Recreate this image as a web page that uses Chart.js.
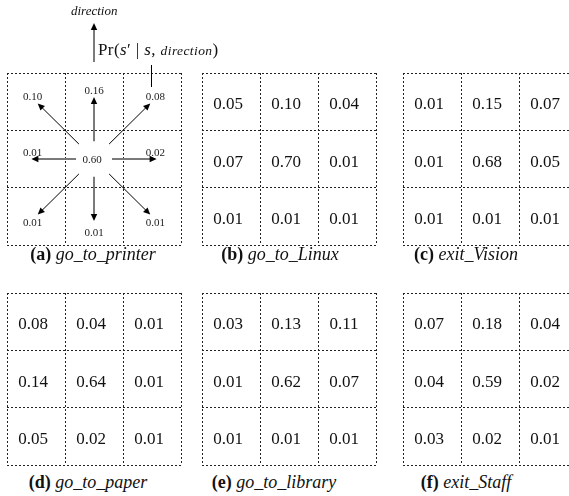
<!DOCTYPE html>
<html>
<head>
<meta charset="utf-8">
<script src="https://cdn.jsdelivr.net/npm/chart.js@4/dist/chart.umd.min.js"></script>
<style>
html, body { margin: 0; padding: 0; background: #fff; width: 569px; height: 496px; overflow: hidden; }
.panel { position: absolute; }
.cap { position: absolute; width: 240px; margin-left: -120px; text-align: center; white-space: nowrap;
       font-family: "Liberation Serif", "Times New Roman", serif; font-size: 18px; line-height: 20px; color: #111; }
.cap i { font-style: italic; }
.hdr { position: absolute; white-space: nowrap; font-family: "Liberation Serif", "Times New Roman", serif; color: #111; }
</style>
</head>
<body>
<div class="panel" style="left:5px; top:0px; width:178px; height:247px;"><canvas id="pa"></canvas></div>
<div class="panel" style="left:200px; top:71px; width:178px; height:176px;"><canvas id="pb"></canvas></div>
<div class="panel" style="left:401px; top:71px; width:178px; height:176px;"><canvas id="pc"></canvas></div>
<div class="panel" style="left:5px; top:291px; width:178px; height:176px;"><canvas id="pd"></canvas></div>
<div class="panel" style="left:200px; top:291px; width:178px; height:176px;"><canvas id="pe"></canvas></div>
<div class="panel" style="left:401px; top:291px; width:178px; height:176px;"><canvas id="pf"></canvas></div>

<div class="hdr" style="left:71px; top:3px; font-size:13px; font-style:italic;">direction</div>
<div class="hdr" style="left:98px; top:40px; font-size:17px; letter-spacing:0.4px;">Pr(<i>s</i>′ | <i>s</i>, <i style="font-size:13.5px;">direction</i>)</div>

<div class="cap" style="left:93px; top:244px;"><b>(a)</b> <i>go_to_printer</i></div>
<div class="cap" style="left:280px; top:244px;"><b>(b)</b> <i>go_to_Linux</i></div>
<div class="cap" style="left:466px; top:244px;"><b>(c)</b> <i>exit_Vision</i></div>
<div class="cap" style="left:88px; top:472px;"><b>(d)</b> <i>go_to_paper</i></div>
<div class="cap" style="left:274px; top:472px;"><b>(e)</b> <i>go_to_library</i></div>
<div class="cap" style="left:466px; top:472px;"><b>(f)</b> <i>exit_Staff</i></div>

<script>
// transition probabilities, row-major (top row first), 3x3 per action
const goToPrinter = [0.10, 0.16, 0.08, 0.01, 0.60, 0.02, 0.01, 0.01, 0.01];
const goToLinux   = [0.05, 0.10, 0.04, 0.07, 0.70, 0.01, 0.01, 0.01, 0.01];
const exitVision  = [0.01, 0.15, 0.07, 0.01, 0.68, 0.05, 0.01, 0.01, 0.01];
const goToPaper   = [0.08, 0.04, 0.01, 0.14, 0.64, 0.01, 0.05, 0.02, 0.01];
const goToLibrary = [0.03, 0.13, 0.11, 0.01, 0.62, 0.07, 0.01, 0.01, 0.01];
const exitStaff   = [0.07, 0.18, 0.04, 0.04, 0.59, 0.02, 0.03, 0.02, 0.01];

const serif = '"Liberation Serif", "Times New Roman", serif';

function cellPoints(values) {
    return values.map((v, i) => ({ x: (i % 3) + 0.5, y: Math.floor(i / 3) + 0.5, v: v }));
}

// big numbers written in the middle of each cell
const cellLabels = {
    id: 'cellLabels',
    afterDatasetsDraw(chart) {
        const ctx = chart.ctx;
        const meta = chart.getDatasetMeta(0);
        const data = chart.data.datasets[0].data;
        ctx.save();
        ctx.fillStyle = '#111';
        ctx.font = '17px ' + serif;
        ctx.textAlign = 'center';
        ctx.textBaseline = 'alphabetic';
        meta.data.forEach((pt, i) => {
            ctx.fillText(data[i].v.toFixed(2), pt.x - 3, pt.y + 7.5);
        });
        ctx.restore();
    }
};

function arrow(ctx, x0, y0, x1, y1, color, width) {
    const ang = Math.atan2(y1 - y0, x1 - x0);
    const len = 7, half = 3.2;
    ctx.strokeStyle = color;
    ctx.lineWidth = width;
    ctx.beginPath();
    ctx.moveTo(x0, y0);
    ctx.lineTo(x1 - Math.cos(ang) * len * 0.8, y1 - Math.sin(ang) * len * 0.8);
    ctx.stroke();
    ctx.fillStyle = '#000';
    ctx.beginPath();
    ctx.moveTo(x1, y1);
    ctx.lineTo(x1 - Math.cos(ang) * len - Math.sin(ang) * half, y1 - Math.sin(ang) * len + Math.cos(ang) * half);
    ctx.lineTo(x1 - Math.cos(ang) * len + Math.sin(ang) * half, y1 - Math.sin(ang) * len - Math.cos(ang) * half);
    ctx.closePath();
    ctx.fill();
}

// panel (a): arrows from the centre cell, small labels at the arrow tips
const compass = {
    id: 'compass',
    afterDatasetsDraw(chart) {
        const ctx = chart.ctx;
        const xs = chart.scales.x, ys = chart.scales.y;
        const area = chart.chartArea;
        const data = chart.data.datasets[0].data;
        const cx = 1.5, cy = 1.5;
        ctx.save();
        data.forEach((p, i) => {
            const dx = Math.round(p.x - cx), dy = Math.round(p.y - cy);
            let lx = cx, ly = cy, shift = -2;
            if (dx !== 0 || dy !== 0) {
                const diag = dx !== 0 && dy !== 0;
                const r0 = diag ? 0.26 : 0.31, r1 = diag ? 0.97 : 1.08;
                arrow(ctx,
                    xs.getPixelForValue(cx + dx * r0), ys.getPixelForValue(cy + dy * r0),
                    xs.getPixelForValue(cx + dx * r1), ys.getPixelForValue(cy + dy * r1),
                    diag ? '#000' : '#7a7a7a', diag ? 1 : 2);
                lx = cx + dx * 1.06;
                ly = cy + (dy === 0 ? -0.12 : dy * (dx === 0 ? (dy < 0 ? 1.19 : 1.27) : 1.1));
                shift = 0;
            }
            ctx.fillStyle = '#222';
            ctx.font = '11px ' + serif;
            ctx.textAlign = 'center';
            ctx.fillText(p.v.toFixed(2), xs.getPixelForValue(lx) + shift, ys.getPixelForValue(ly) + 3.7);
        });
        // "direction" arrow above the grid and the pointer to the 0.08 cell
        const ux = xs.getPixelForValue(cx);
        arrow(ctx, ux, area.top - 11, ux, area.top - 50, '#7a7a7a', 2);
        const px = Math.round(xs.getPixelForValue(2.5)) - 0.5;
        ctx.strokeStyle = '#000';
        ctx.lineWidth = 1;
        ctx.beginPath();
        ctx.moveTo(px, area.top - 8);
        ctx.lineTo(px, area.top + 14);
        ctx.stroke();
        ctx.restore();
    }
};

function gridScale(reverse) {
    return {
        type: 'linear', min: 0, max: 3, reverse: reverse,
        ticks: { display: false, stepSize: 1 },
        grid: { color: '#222', lineWidth: 1, drawTicks: false },
        border: { display: false, dash: [2, 2] }
    };
}

function makePanel(id, values, extraPlugin, padding) {
    new Chart(document.getElementById(id), {
        type: 'scatter',
        data: {
            datasets: [{
                data: cellPoints(values),
                pointRadius: 0,
                pointHoverRadius: 0
            }]
        },
        options: {
            responsive: true,
            maintainAspectRatio: false,
            animation: false,
            events: [],
            layout: { padding: padding },
            plugins: {
                legend: { display: false },
                tooltip: { enabled: false }
            },
            scales: {
                x: gridScale(false),
                y: gridScale(true)
            }
        },
        plugins: [extraPlugin]
    });
}

makePanel('pa', goToPrinter, compass, { top: 73, left: 2, right: 2, bottom: 2 });
makePanel('pb', goToLinux, cellLabels, 2);
makePanel('pc', exitVision, cellLabels, 2);
makePanel('pd', goToPaper, cellLabels, 2);
makePanel('pe', goToLibrary, cellLabels, 2);
makePanel('pf', exitStaff, cellLabels, 2);
</script>
</body>
</html>
